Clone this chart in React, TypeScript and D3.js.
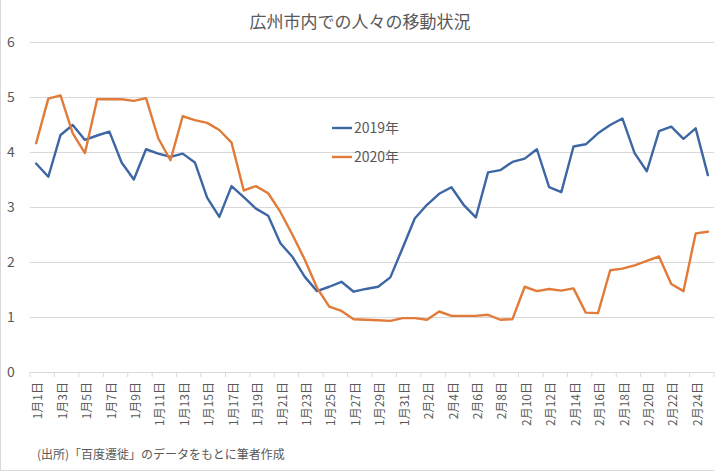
import React from 'react';
import * as d3 from 'd3';

const categories = [
  '1月1日','1月2日','1月3日','1月4日','1月5日','1月6日','1月7日','1月8日','1月9日','1月10日',
  '1月11日','1月12日','1月13日','1月14日','1月15日','1月16日','1月17日','1月18日','1月19日','1月20日',
  '1月21日','1月22日','1月23日','1月24日','1月25日','1月26日','1月27日','1月28日','1月29日','1月30日',
  '1月31日','2月1日','2月2日','2月3日','2月4日','2月5日','2月6日','2月7日','2月8日','2月9日',
  '2月10日','2月11日','2月12日','2月13日','2月14日','2月15日','2月16日','2月17日','2月18日','2月19日',
  '2月20日','2月21日','2月22日','2月23日','2月24日','2月25日'
];

const series2019 = [
  3.79, 3.55, 4.31, 4.49, 4.22, 4.30, 4.37, 3.81, 3.50, 4.05,
  3.97, 3.91, 3.97, 3.81, 3.17, 2.82, 3.38, 3.18, 2.97, 2.84,
  2.34, 2.09, 1.73, 1.47, 1.55, 1.64, 1.46, 1.51, 1.55, 1.72,
  2.25, 2.79, 3.04, 3.24, 3.36, 3.04, 2.81, 3.63, 3.67, 3.82,
  3.88, 4.05, 3.36, 3.27, 4.10, 4.14, 4.34, 4.49, 4.61, 3.98,
  3.65, 4.38, 4.46, 4.24, 4.43, 3.58
];

const series2020 = [
  4.16, 4.97, 5.03, 4.34, 3.98, 4.96, 4.96, 4.96, 4.93, 4.98,
  4.25, 3.85, 4.65, 4.58, 4.53, 4.40, 4.17, 3.30, 3.38, 3.25,
  2.91, 2.49, 2.04, 1.53, 1.19, 1.11, 0.96, 0.95, 0.94, 0.93,
  0.98, 0.98, 0.95, 1.10, 1.02, 1.02, 1.02, 1.04, 0.95, 0.96,
  1.55, 1.47, 1.51, 1.48, 1.52, 1.08, 1.07, 1.85, 1.88, 1.94,
  2.02, 2.10, 1.60, 1.47, 2.52, 2.55
];

const yTicks = [0, 1, 2, 3, 4, 5, 6];

const seriesNames = ['2019年', '2020年'];
const colors = ['#3D66A4', '#E07B39'];

const FONT = '"Noto Sans CJK JP", "Noto Sans", sans-serif';
const TEXT = '#595959';

export default function App() {
  const W = 720, H = 472;
  const left = 30, right = 714, top = 42, bottom = 372;
  const x = d3.scalePoint<string>().domain(categories).range([left, right]).padding(0.5);
  const y = d3.scaleLinear().domain([0, 6]).range([bottom, top]);
  const step = x.step();
  const mkLine = (vals: number[]) =>
    d3.line<number>().x((_, i) => x(categories[i]) as number).y(d => y(d))(vals) as string;

  const tickBoundaries: number[] = [];
  for (let k = 0; k <= categories.length; k += 2) tickBoundaries.push(left + k * step);

  const allSeries = [series2019, series2020];

  return (
    <svg width={W} height={H} style={{ position: 'absolute', left: 0, top: 0, background: '#fff' }} fontFamily={FONT}>
      <rect x={0} y={0} width={W} height={H} fill="#fff" />
      <line x1={0.5} y1={0} x2={0.5} y2={470.5} stroke="#d9d9d9" />
      <line x1={0} y1={470.5} x2={714} y2={470.5} stroke="#d9d9d9" />
      <text x={360} y={28} textAnchor="middle" fontSize={17} fill={TEXT}>広州市内での人々の移動状況</text>
      {yTicks.map(t => (
        <g key={t}>
          <line x1={left} x2={right} y1={Math.round(y(t)) + 0.5} y2={Math.round(y(t)) + 0.5} stroke="#d9d9d9" strokeWidth={1} />
          <text x={11} y={y(t)} dy="0.35em" textAnchor="middle" fontSize={14} fill={TEXT}>{t}</text>
        </g>
      ))}
      {tickBoundaries.map((bx, i) => (
        <line key={i} x1={bx} x2={bx} y1={bottom} y2={bottom + 5} stroke="#d9d9d9" />
      ))}
      {categories.map((c, i) => i % 2 === 0 ? (
        <text key={c} transform={`translate(${(x(c) as number) + 2},${bottom + 10}) rotate(-90)`}
          textAnchor="end" dy="0.35em" fontSize={12} fill={TEXT}>{c}</text>
      ) : null)}
      {allSeries.map((s, i) => (
        <path key={i} d={mkLine(s)} fill="none" stroke={colors[i]} strokeWidth={2.4} strokeLinejoin="round" strokeLinecap="round" />
      ))}
      {seriesNames.map((n, i) => (
        <g key={n} transform={`translate(332,${128 + i * 29})`}>
          <line x1={0} x2={20} y1={0} y2={0} stroke={colors[i]} strokeWidth={2.4} />
          <text x={22} y={0} dy="0.35em" fontSize={14} fill={TEXT}>{n}</text>
        </g>
      ))}
      <text x={37} y={455} dy="0.35em" fontSize={12} fill={TEXT}>(出所)「百度遷徙」のデータをもとに筆者作成</text>
    </svg>
  );
}
